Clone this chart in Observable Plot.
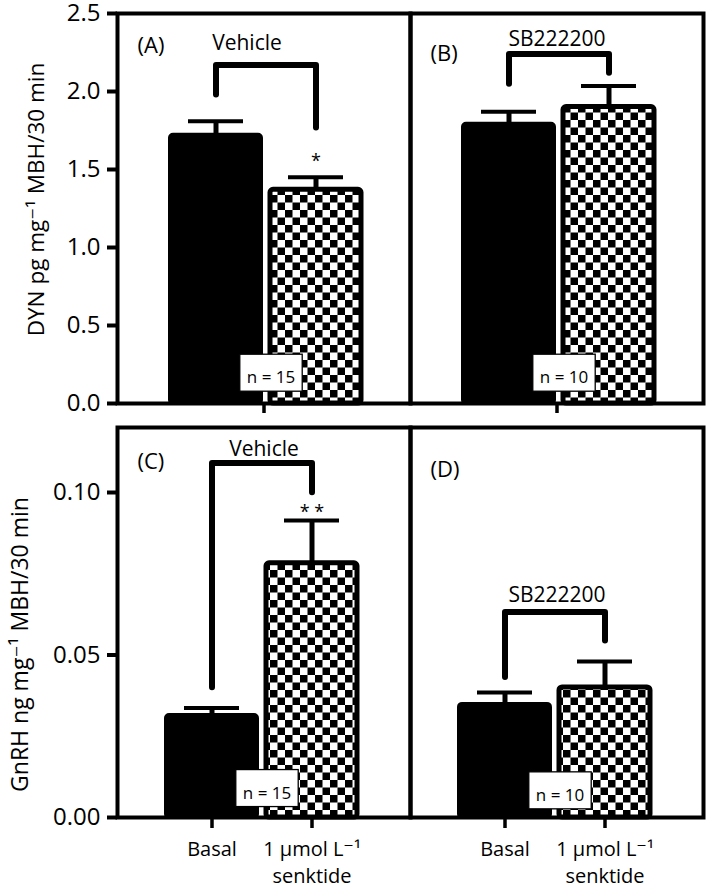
<!DOCTYPE html>
<html><head><meta charset="utf-8">
<script src="https://cdn.jsdelivr.net/npm/d3@7"></script>
<script src="https://cdn.jsdelivr.net/npm/@observablehq/plot@0.6"></script>
<style>
body{margin:0;background:#fff;}
#chart svg{display:block;}
</style></head><body><div id="chart"></div>
<script>
// ---- data ----
const conditions = ["Basal", "Senktide"];
const conditionLabels = ["Basal", "1 μmol L⁻¹\nsenktide"];
const topPanels = ["A", "B"];
const bottomPanels = ["C", "D"];
const panelLabelsTop = ["(A)", "(B)"];
const panelLabelsBottom = ["(C)", "(D)"];
const panelLabelYTop = [2.295, 2.24];
const panelLabelYBottom = [0.1094, 0.1068];

// DYN pg/mg MBH/30 min  [Basal, Senktide]
const dynMeanA = [1.72, 1.37];
const dynSemA = [0.09, 0.08];
const dynMeanB = [1.79, 1.90];
const dynSemB = [0.08, 0.135];
// GnRH ng/mg MBH/30 min [Basal, Senktide]
const gnrhMeanC = [0.0314, 0.0782];
const gnrhSemC = [0.0023, 0.0132];
const gnrhMeanD = [0.0348, 0.0400];
const gnrhSemD = [0.0037, 0.0080];

// comparison brackets: [left end, top, right end]
const bracketLeftTop = [1.98, 2.05];
const bracketTopTop = [2.17, 2.24];
const bracketRightTop = [1.77, 2.12];
const bracketLeftBottom = [0.0401, 0.0432];
const bracketTopBottom = [0.1091, 0.0632];
const bracketRightBottom = [0.1001, 0.0545];
const bracketLabelsTop = ["Vehicle", "SB222200"];
const bracketLabelYTop = [2.306, 2.338];
const bracketLabelsBottom = ["Vehicle", "SB222200"];
const bracketLabelYBottom = [0.1134, 0.0683];

// significance marks (on senktide bar)
const sigTop = ["*", ""];
const sigYTop = [1.554, 0];
const sigBottom = ["* *", ""];
const sigYBottom = [0.094, 0];

// sample sizes
const nTop = ["n = 15", "n = 10"];
const nYTop = [0.165, 0.165];
const nBottom = ["n = 15", "n = 10"];
const nYBottom = [0.0075, 0.0068];

const yTicksTop = [0, 0.5, 1.0, 1.5, 2.0, 2.5];
const yTicksBottom = [0, 0.05, 0.10];
const yLabelTop = "DYN pg mg⁻¹ MBH/30 min";
const yLabelBottom = "GnRH ng mg⁻¹ MBH/30 min";

// ---- helpers ----
function buildRows(panels, means, sems) {
  const rows = [];
  panels.forEach((p, i) => conditions.forEach((c, j) =>
    rows.push({panel: p, cond: c, mean: means[i][j], sem: sems[i][j]})));
  return rows;
}
function buildBrackets(panels, L, T, R) {
  const pts = [];
  panels.forEach((p, i) => {
    pts.push({panel: p, cond: conditions[0], y: L[i]});
    pts.push({panel: p, cond: conditions[0], y: T[i]});
    pts.push({panel: p, cond: conditions[1], y: T[i]});
    pts.push({panel: p, cond: conditions[1], y: R[i]});
  });
  return pts;
}
function zipText(panels, texts, ys) {
  return panels.map((p, i) => ({panel: p, text: texts[i], y: ys[i]})).filter(d => d.text !== "");
}

const FONT = "'Open Sans', 'DejaVu Sans', sans-serif";

function makeRow(opts) {
  const {panels, data, brackets, panelLabels, bracketLabels, sig, nLab, yDomain, yTicks, yFormat,
         yLabel, yLabelSize, yLabelDx, yLabelDy, height, marginTop, marginBottom, align, bottom, firstLabelDx} = opts;
  const marks = [
    Plot.barY(data.filter(d => d.cond === conditions[0]), {fx: "panel", x: "cond", y: "mean", fill: "black", stroke: "black", strokeWidth: 4, rx: 3}),
    Plot.barY(data.filter(d => d.cond === conditions[1]), {fx: "panel", x: "cond", y: "mean", fill: "url(#checker)", stroke: "black", strokeWidth: 5, rx: 3}),
    Plot.ruleX(data, {fx: "panel", x: "cond", y1: "mean", y2: d => d.mean + d.sem, strokeWidth: 5}),
    Plot.tickY(data, {fx: "panel", x: "cond", y: d => d.mean + d.sem, strokeWidth: 4, insetLeft: 18, insetRight: 18}),
    Plot.line(brackets, {fx: "panel", x: "cond", y: "y", z: "panel", strokeWidth: 6, strokeLinejoin: "round"}),
    Plot.frame({strokeWidth: 4}),
    Plot.axisY({ticks: yTicks, tickFormat: d3.format(yFormat), tickSize: 10, tickPadding: 7, strokeWidth: 4, fontSize: 24, label: null}),
    Plot.text(panelLabels, {fx: "panel", y: "y", text: "text", frameAnchor: "left", dx: 20, textAnchor: "start", fontSize: 22}),
    Plot.text(bracketLabels.filter((d, i) => i === 0), {fx: "panel", y: "y", text: "text", fontSize: 21, dx: firstLabelDx}),
    Plot.text(bracketLabels.filter((d, i) => i !== 0), {fx: "panel", y: "y", text: "text", fontSize: 21}),
    Plot.text(sig, {fx: "panel", x: () => conditions[1], y: "y", text: "text", fontSize: 18}),
    Plot.text(nLab, {fx: "panel", x: () => conditions[0], y: "y", text: "text", dx: 55, fontSize: 17}),
    Plot.text([yLabel], {fx: () => panels[0], text: d => d, frameAnchor: "left", textAnchor: "middle", rotate: -90, dx: yLabelDx, dy: yLabelDy, fontSize: yLabelSize})
  ];
  if (bottom) {
    marks.push(Plot.axisX({tickSize: 11, tickPadding: 8, strokeWidth: 3.5, fontSize: 20, lineHeight: 1.35,
      tickFormat: d => conditionLabels[conditions.indexOf(d)], label: null}));
  } else {
    marks.push(Plot.axisFx({anchor: "bottom", tickSize: 10, strokeWidth: 3.5, tickFormat: () => "", label: null}));
  }
  return Plot.plot({
    width: 709, height, marginLeft: 117, marginRight: 6, marginTop, marginBottom,
    style: {fontFamily: FONT, background: "white", color: "black", overflow: "visible"},
    fx: {domain: panels, padding: 0, axis: null},
    x: {domain: conditions, paddingInner: 0.09, paddingOuter: 0.5, align, axis: null},
    y: {domain: yDomain, axis: null},
    marks
  });
}

const topSvg = makeRow({
  panels: topPanels,
  data: buildRows(topPanels, [dynMeanA, dynMeanB], [dynSemA, dynSemB]),
  brackets: buildBrackets(topPanels, bracketLeftTop, bracketTopTop, bracketRightTop),
  panelLabels: zipText(topPanels, panelLabelsTop, panelLabelYTop),
  bracketLabels: zipText(topPanels, bracketLabelsTop, bracketLabelYTop),
  sig: zipText(topPanels, sigTop, sigYTop),
  nLab: zipText(topPanels, nTop, nYTop),
  yDomain: [0, 2.5], yTicks: yTicksTop, yFormat: ".1f",
  yLabel: yLabelTop, yLabelSize: 22.5, yLabelDx: -81, yLabelDy: -9,
  height: 420, marginTop: 13, marginBottom: 17, align: 0.517, bottom: false, firstLabelDx: -17
});
const bottomSvg = makeRow({
  panels: bottomPanels,
  data: buildRows(bottomPanels, [gnrhMeanC, gnrhMeanD], [gnrhSemC, gnrhSemD]),
  brackets: buildBrackets(bottomPanels, bracketLeftBottom, bracketTopBottom, bracketRightBottom),
  panelLabels: zipText(bottomPanels, panelLabelsBottom, panelLabelYBottom),
  bracketLabels: zipText(bottomPanels, bracketLabelsBottom, bracketLabelYBottom),
  sig: zipText(bottomPanels, sigBottom, sigYBottom),
  nLab: zipText(bottomPanels, nBottom, nYBottom),
  yDomain: [0, 0.12], yTicks: yTicksBottom, yFormat: ".2f",
  yLabel: yLabelBottom, yLabelSize: 23, yLabelDx: -97, yLabelDy: 22,
  height: 472, marginTop: 7, marginBottom: 75, align: 0.483, bottom: true, firstLabelDx: 0
});

// checker pattern
const s = 7.5;
const defs = d3.select(topSvg).insert("defs", ":first-child");
const pat = defs.append("pattern").attr("id", "checker").attr("patternUnits", "userSpaceOnUse")
  .attr("width", 2 * s).attr("height", 2 * s);
pat.append("rect").attr("width", 2 * s).attr("height", 2 * s).attr("fill", "white");
pat.append("rect").attr("width", s).attr("height", s).attr("fill", "black");
pat.append("rect").attr("x", s).attr("y", s).attr("width", s).attr("height", s).attr("fill", "black");

const chart = document.getElementById("chart");
chart.appendChild(topSvg);
chart.appendChild(bottomSvg);

// white boxes behind the n labels
const nTexts = new Set([...nTop, ...nBottom]);
for (const svg of [topSvg, bottomSvg]) {
  svg.querySelectorAll("text").forEach(t => {
    if (!nTexts.has(t.textContent)) return;
    const b = t.getBBox();
    const r = document.createElementNS("http://www.w3.org/2000/svg", "rect");
    r.setAttribute("x", b.x - 7);
    r.setAttribute("y", b.y - 11);
    r.setAttribute("width", b.width + 14);
    r.setAttribute("height", b.height + 14);
    r.setAttribute("fill", "white");
    r.setAttribute("stroke", "black");
    r.setAttribute("stroke-width", 1.3);
    if (t.getAttribute("transform")) r.setAttribute("transform", t.getAttribute("transform"));
    t.parentNode.insertBefore(r, t);
  });
}
</script></body></html>
